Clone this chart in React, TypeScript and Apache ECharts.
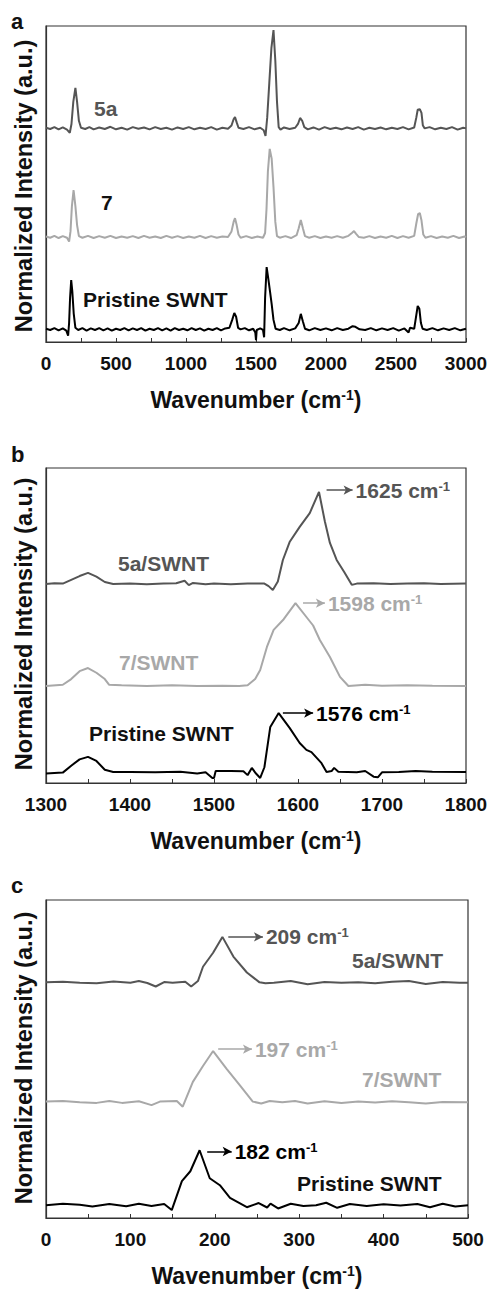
import React, { useEffect, useRef } from "react";
import * as echarts from "echarts";

const FONT = '"Liberation Sans", Arial, Helvetica, sans-serif';
const C5A = "#555555";
const C7 = "#a8a8a8";
const CP = "#000000";

// Panel a: full spectra (wavenumber, offset normalized intensity)
const a5a: number[][] = [[0,6.78],[30,6.74],[60,6.8],[90,6.73],[120,6.79],[150,6.72],[170,6.62],[182,6.9],[195,7.6],[210,8.04],[222,7.6],[235,7.0],[250,6.78],[280,6.74],[310,6.8],[340,6.73],[380,6.79],[420,6.74],[460,6.81],[500,6.73],[540,6.78],[580,6.72],[620,6.8],[660,6.75],[700,6.79],[740,6.73],[780,6.8],[820,6.74],[860,6.78],[900,6.72],[940,6.79],[980,6.74],[1020,6.8],[1060,6.73],[1100,6.78],[1140,6.74],[1180,6.8],[1220,6.72],[1260,6.78],[1300,6.75],[1325,6.85],[1340,7.05],[1350,7.12],[1362,6.95],[1375,6.78],[1410,6.74],[1450,6.8],[1490,6.73],[1530,6.78],[1555,6.7],[1568,6.52],[1580,7.1],[1595,8.2],[1610,9.3],[1625,9.87],[1638,8.9],[1650,7.6],[1662,6.8],[1675,6.72],[1700,6.79],[1740,6.74],[1780,6.78],[1800,6.9],[1815,7.09],[1830,7.0],[1845,6.8],[1870,6.73],[1910,6.79],[1950,6.72],[1990,6.8],[2030,6.74],[2070,6.78],[2110,6.73],[2150,6.79],[2190,6.74],[2230,6.8],[2270,6.72],[2310,6.78],[2350,6.74],[2390,6.79],[2430,6.73],[2470,6.78],[2510,6.74],[2550,6.8],[2590,6.73],[2630,6.79],[2645,7.1],[2655,7.35],[2670,7.37],[2682,7.25],[2692,6.85],[2705,6.76],[2740,6.8],[2780,6.73],[2820,6.78],[2860,6.74],[2900,6.8],[2940,6.72],[2980,6.78],[3000,6.76]];
const a7: number[][] = [[0,3.34],[30,3.3],[60,3.36],[90,3.29],[120,3.35],[150,3.3],[165,3.18],[175,3.5],[185,4.3],[197,4.81],[210,4.3],[222,3.7],[235,3.35],[260,3.3],[300,3.36],[340,3.29],[380,3.35],[420,3.3],[460,3.36],[500,3.29],[540,3.34],[580,3.3],[620,3.35],[660,3.29],[700,3.36],[740,3.3],[780,3.34],[820,3.29],[860,3.36],[900,3.3],[940,3.35],[980,3.29],[1020,3.34],[1060,3.3],[1100,3.36],[1140,3.29],[1180,3.35],[1220,3.3],[1260,3.34],[1300,3.32],[1325,3.5],[1340,3.8],[1350,3.92],[1362,3.7],[1375,3.4],[1390,3.3],[1430,3.35],[1470,3.29],[1510,3.34],[1550,3.3],[1565,3.45],[1575,4.2],[1585,5.4],[1598,6.11],[1612,5.8],[1625,4.9],[1638,3.8],[1650,3.35],[1670,3.3],[1710,3.35],[1750,3.29],[1790,3.38],[1805,3.6],[1820,3.86],[1835,3.6],[1850,3.35],[1880,3.3],[1920,3.35],[1960,3.29],[2000,3.34],[2040,3.3],[2080,3.35],[2120,3.3],[2160,3.36],[2185,3.45],[2200,3.51],[2215,3.42],[2235,3.32],[2270,3.3],[2310,3.35],[2350,3.29],[2390,3.34],[2430,3.3],[2470,3.36],[2510,3.29],[2550,3.35],[2590,3.3],[2630,3.36],[2645,3.75],[2658,4.05],[2670,4.08],[2682,3.85],[2695,3.4],[2710,3.3],[2750,3.35],[2790,3.29],[2830,3.34],[2870,3.3],[2910,3.36],[2950,3.29],[2990,3.34],[3000,3.32]];
const aPristine: number[][] = [[0,0.42],[30,0.38],[60,0.44],[90,0.37],[120,0.43],[145,0.36],[158,0.2],[165,0.6],[172,1.4],[180,1.96],[188,1.6],[198,0.9],[210,0.45],[230,0.38],[260,0.44],[290,0.36],[320,0.43],[350,0.38],[380,0.44],[410,0.37],[440,0.43],[470,0.36],[500,0.42],[530,0.38],[560,0.44],[590,0.37],[620,0.43],[650,0.38],[680,0.44],[710,0.36],[740,0.42],[770,0.38],[800,0.44],[830,0.37],[860,0.43],[890,0.36],[920,0.44],[950,0.38],[980,0.42],[1010,0.37],[1040,0.44],[1070,0.38],[1100,0.43],[1130,0.36],[1160,0.42],[1190,0.38],[1220,0.44],[1250,0.37],[1280,0.43],[1310,0.45],[1330,0.7],[1345,0.92],[1358,0.8],[1372,0.45],[1390,0.4],[1420,0.44],[1450,0.37],[1480,0.42],[1495,0.3],[1500,0.06],[1505,0.38],[1530,0.43],[1550,0.38],[1558,0.15],[1565,1.4],[1576,2.37],[1588,2.0],[1600,1.6],[1612,1.2],[1625,0.7],[1640,0.42],[1670,0.38],[1700,0.44],[1740,0.37],[1780,0.43],[1805,0.6],[1820,0.89],[1835,0.65],[1850,0.42],[1880,0.37],[1920,0.44],[1960,0.38],[2000,0.43],[2040,0.37],[2080,0.44],[2120,0.38],[2160,0.42],[2190,0.5],[2210,0.48],[2240,0.4],[2280,0.38],[2320,0.44],[2360,0.37],[2400,0.43],[2440,0.38],[2480,0.44],[2520,0.36],[2560,0.43],[2590,0.3],[2600,0.45],[2630,0.42],[2645,0.85],[2655,1.14],[2667,1.05],[2678,0.6],[2690,0.42],[2720,0.38],[2760,0.44],[2800,0.37],[2840,0.43],[2880,0.38],[2920,0.44],[2960,0.37],[3000,0.42]];

// Panel b: G band region
const b5a: number[][] = [[1300,6.32],[1310,6.34],[1320,6.33],[1330,6.45],[1340,6.57],[1350,6.67],[1360,6.55],[1370,6.38],[1380,6.32],[1400,6.33],[1420,6.31],[1440,6.33],[1455,6.34],[1465,6.42],[1470,6.28],[1475,6.35],[1490,6.31],[1500,6.33],[1520,6.31],[1540,6.33],[1560,6.33],[1565,6.25],[1570,6.13],[1576,6.4],[1582,7.08],[1590,7.65],[1602,8.13],[1614,8.57],[1625,9.24],[1632,8.3],[1638,7.62],[1646,7.08],[1655,6.7],[1664,6.29],[1670,6.33],[1690,6.34],[1710,6.32],[1730,6.33],[1750,6.34],[1770,6.32],[1800,6.33]];
const b7: number[][] = [[1300,3.08],[1320,3.12],[1330,3.3],[1340,3.55],[1350,3.65],[1360,3.5],[1370,3.3],[1375,3.12],[1390,3.1],[1420,3.08],[1450,3.1],[1480,3.08],[1510,3.09],[1530,3.08],[1540,3.1],[1549,3.3],[1555,3.59],[1563,4.32],[1571,4.86],[1583,5.2],[1597,5.71],[1610,5.27],[1618,5.0],[1626,4.54],[1638,4.0],[1650,3.37],[1660,3.08],[1680,3.12],[1700,3.09],[1730,3.1],[1760,3.09],[1800,3.08]];
const bPristine: number[][] = [[1300,0.3],[1320,0.33],[1330,0.55],[1340,0.75],[1350,0.83],[1360,0.7],[1370,0.42],[1380,0.35],[1400,0.35],[1430,0.34],[1460,0.36],[1480,0.3],[1490,0.34],[1498,0.16],[1500,0.16],[1502,0.38],[1520,0.38],[1535,0.37],[1540,0.25],[1545,0.48],[1550,0.3],[1555,0.16],[1560,0.5],[1567,1.78],[1577,2.22],[1590,1.75],[1602,1.27],[1610,1.05],[1616,0.98],[1628,0.63],[1634,0.35],[1640,0.38],[1643,0.48],[1648,0.36],[1670,0.34],[1680,0.38],[1690,0.2],[1695,0.18],[1700,0.34],[1720,0.35],[1740,0.38],[1760,0.36],[1800,0.35]];

// Panel c: RBM region
const c5a: number[][] = [[0,7.41],[20,7.43],[40,7.4],[60,7.38],[80,7.44],[100,7.4],[110,7.45],[120,7.39],[130,7.28],[140,7.42],[150,7.4],[165,7.43],[172,7.28],[180,7.45],[186,7.9],[198,8.34],[209,8.84],[222,8.22],[238,7.72],[253,7.41],[260,7.38],[270,7.4],[290,7.45],[310,7.35],[330,7.42],[350,7.4],[370,7.41],[390,7.38],[410,7.43],[430,7.45],[450,7.36],[470,7.42],[490,7.4],[500,7.4]];
const c7: number[][] = [[0,3.66],[20,3.68],[40,3.64],[60,3.62],[75,3.68],[90,3.62],[110,3.67],[125,3.55],[135,3.66],[155,3.68],[162,3.5],[174,4.28],[186,4.78],[198,5.25],[214,4.69],[230,4.16],[245,3.66],[255,3.6],[265,3.68],[280,3.64],[295,3.68],[310,3.6],[330,3.67],[350,3.62],[370,3.66],[390,3.63],[410,3.67],[430,3.64],[450,3.6],[470,3.65],[500,3.64]];
const cPristine: number[][] = [[0,0.4],[20,0.45],[40,0.42],[55,0.36],[75,0.44],[95,0.37],[110,0.45],[125,0.38],[140,0.44],[149,0.25],[161,1.16],[171,1.47],[182,2.13],[194,1.25],[206,1.03],[218,0.63],[238,0.34],[252,0.47],[262,0.33],[266,0.45],[275,0.3],[290,0.45],[305,0.38],[320,0.4],[332,0.48],[345,0.32],[360,0.44],[380,0.38],[400,0.43],[420,0.39],[440,0.44],[455,0.34],[470,0.45],[485,0.36],[500,0.4]];

// Axis ranges
const xRanges = [
  { min: 0, max: 3000, interval: 500 },
  { min: 1300, max: 1800, interval: 100 },
  { min: 0, max: 500, interval: 100 },
];

// Peak annotations: [x start, x end, y, text]
const bArrows: [number, number, number, string][] = [
  [1634, 1665, 9.3, "1625"],
  [1606, 1632, 5.71, "1598"],
  [1582, 1618, 2.22, "1576"],
];
const cArrows: [number, number, number, string][] = [
  [216, 257, 8.84, "209"],
  [204, 244, 5.31, "197"],
  [191, 220, 2.09, "182"],
];

const grids = [
  { left: 46, top: 26, width: 420, height: 316 },
  { left: 46, top: 468, width: 420, height: 315 },
  { left: 46, top: 900, width: 422, height: 320 },
];

const App: React.FC = () => {
  const ref = useRef<HTMLDivElement>(null);
  useEffect(() => {
    if (!ref.current) return;
    const chart = echarts.init(ref.current, undefined, { renderer: "svg" });
    const sup = { fontSize: 13, fontWeight: "bold", fontFamily: FONT, verticalAlign: "top", lineHeight: 21 };

    const xAxes = xRanges.map((r, i) => ({
      gridIndex: i,
      type: "value",
      min: r.min,
      max: r.max,
      interval: r.interval,
      axisLine: { show: true, lineStyle: { color: "#333", width: 1.2 } },
      axisTick: { show: true, inside: true, length: 4, lineStyle: { color: "#333" } },
      minorTick: { show: true, splitNumber: 2, length: 4, lineStyle: { color: "#333" } },
      splitLine: { show: false },
      minorSplitLine: { show: false },
      axisLabel: {
        fontSize: 19,
        fontWeight: "bold",
        color: "#111",
        fontFamily: FONT,
        margin: 12,
        formatter: (v: number) => String(v),
      },
      name: "Wavenumber (cm{sup|-1})",
      nameLocation: "middle",
      nameGap: 46,
      nameTextStyle: {
        fontSize: 23,
        fontWeight: "bold",
        color: "#111",
        fontFamily: FONT,
        lineHeight: 24,
        rich: { sup: { ...sup, fontSize: 14, lineHeight: 24, color: "#111" } },
      },
    }));
    const yAxes = [0, 1, 2].map((i) => ({
      gridIndex: i,
      type: "value",
      min: 0,
      max: 10,
      axisLine: { show: true, lineStyle: { color: "#333", width: 1.2 } },
      axisTick: { show: false },
      axisLabel: { show: false },
      splitLine: { show: false },
    }));

    const line = (data: number[][], color: string, idx: number, extra: any = {}) => ({
      type: "line",
      xAxisIndex: idx,
      yAxisIndex: idx,
      data,
      showSymbol: false,
      symbol: "none",
      lineStyle: { color, width: 2 },
      itemStyle: { color },
      silent: true,
      ...extra,
    });

    const arrow = (a: [number, number, number, string], color: string) => ({
      silent: true,
      symbol: ["none", "arrow"],
      symbolSize: [7, 9],
      lineStyle: { color, width: 1.5, type: "solid" },
      label: {
        show: true,
        position: "end",
        distance: 3,
        formatter: a[3] + " cm{sup|-1}",
        color,
        fontSize: 21,
        fontWeight: "bold",
        fontFamily: FONT,
        lineHeight: 21,
        rich: { sup: { ...sup, color } },
      },
      data: [[{ coord: [a[0], a[2]] }, { coord: [a[1], a[2]] }]],
    });

    const series = [
      line(a5a, C5A, 0),
      line(a7, C7, 0),
      line(aPristine, CP, 0),
      line(b5a, C5A, 1, { markLine: arrow(bArrows[0], C5A) }),
      line(b7, C7, 1, { markLine: arrow(bArrows[1], C7) }),
      line(bPristine, CP, 1, { markLine: arrow(bArrows[2], CP) }),
      line(c5a, C5A, 2, { markLine: arrow(cArrows[0], C5A) }),
      line(c7, C7, 2, { markLine: arrow(cArrows[1], C7) }),
      line(cPristine, CP, 2, { markLine: arrow(cArrows[2], CP) }),
    ];

    const txt = (x: number, y: number, text: string, color: string, size: number, extra: any = {}) => ({
      type: "text",
      x,
      y,
      silent: true,
      ...extra,
      style: {
        text,
        fill: color,
        fontSize: size,
        fontWeight: "bold",
        fontFamily: FONT,
        align: extra.align || "left",
        verticalAlign: "middle",
      },
    });

    const yTitle = (cy: number) =>
      txt(24, cy, "Normalized Intensity (a.u.)", "#111", 23.5, { rotation: Math.PI / 2, align: "center" });

    const graphic = [
      txt(11, 21, "a", "#111", 22),
      txt(11, 454, "b", "#111", 22),
      txt(11, 885, "c", "#111", 22),
      yTitle(186),
      yTitle(624),
      yTitle(1058),
      txt(94, 108, "5a", C5A, 21),
      txt(101, 202, "7", "#111", 21),
      txt(83, 299, "Pristine SWNT", "#111", 21),
      txt(118, 563, "5a/SWNT", C5A, 21),
      txt(119, 662, "7/SWNT", C7, 21),
      txt(89, 733, "Pristine SWNT", "#111", 21),
      txt(352, 960, "5a/SWNT", C5A, 21),
      txt(362, 1079, "7/SWNT", C7, 21),
      txt(297, 1183, "Pristine SWNT", "#111", 21),
    ];

    chart.setOption({
      animation: false,
      backgroundColor: "#ffffff",
      grid: grids.map((g) => ({
        ...g,
        show: true,
        borderColor: "#333",
        borderWidth: 1.2,
        backgroundColor: "transparent",
        containLabel: false,
      })),
      xAxis: xAxes,
      yAxis: yAxes,
      series,
      graphic,
    });
    return () => chart.dispose();
  }, []);
  return (
    <div
      ref={ref}
      style={{ position: "absolute", left: 0, top: 0, width: 492, height: 1289, background: "#fff" }}
    />
  );
};

export default App;
